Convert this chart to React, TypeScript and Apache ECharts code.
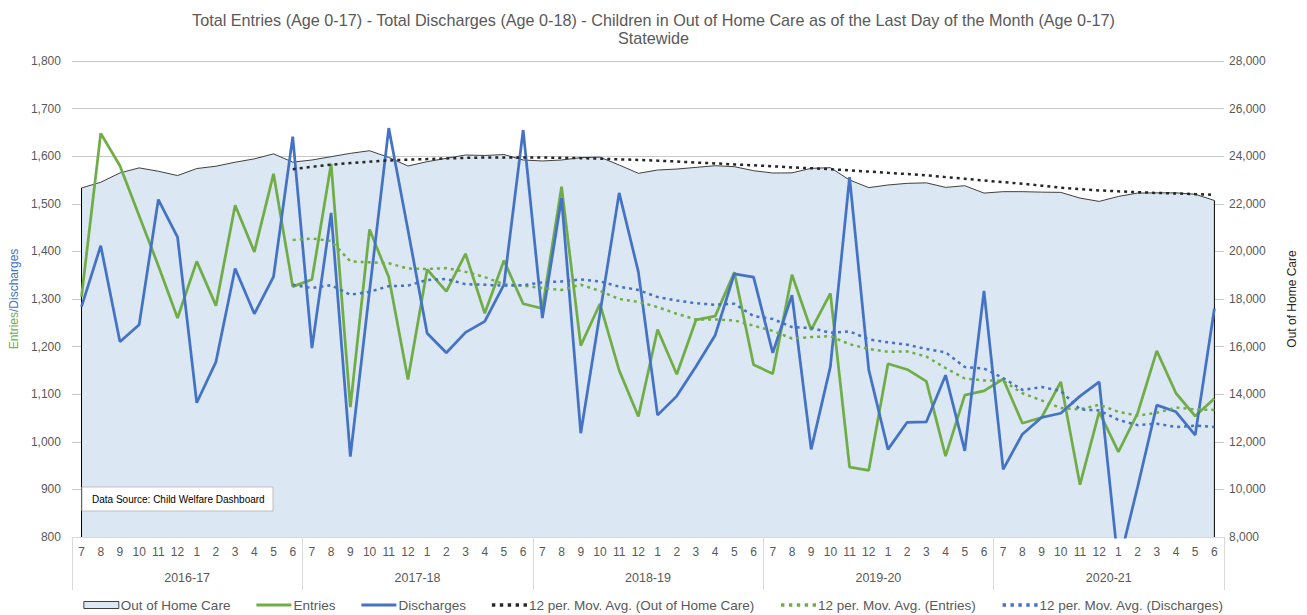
import React, { useEffect, useRef } from 'react';
import * as echarts from 'echarts';

const YEARS = ['2016-17', '2017-18', '2018-19', '2019-20', '2020-21'];
const MONTHS = ['7', '8', '9', '10', '11', '12', '1', '2', '3', '4', '5', '6'];

const ENTRIES = [
  1305, 1648, 1580, 1475, 1370, 1260, 1379, 1286, 1497, 1399, 1563, 1326,
  1341, 1584, 1073, 1446, 1346, 1131, 1362, 1316, 1395, 1270, 1381, 1290,
  1280, 1536, 1202, 1290, 1150, 1053, 1236, 1142, 1256, 1264, 1356, 1162,
  1143, 1351, 1235, 1312, 947, 940, 1164, 1152, 1127, 970, 1098, 1107,
  1132, 1039, 1051, 1126, 910, 1063, 979, 1060, 1191, 1102, 1054, 1091,
];

const DISCHARGES = [
  1284, 1412, 1210, 1246, 1509, 1430, 1082, 1168, 1364, 1269, 1347, 1641,
  1197, 1481, 969, 1317, 1659, 1445, 1228, 1187, 1230, 1253, 1330, 1655,
  1260, 1512, 1018, 1270, 1523, 1357, 1056, 1096, 1158, 1224, 1353, 1346,
  1187, 1308, 984, 1158, 1556, 1151, 984, 1041, 1042, 1140, 981, 1317,
  942, 1016, 1051, 1060, 1096, 1126, 740, 905, 1077, 1063, 1014, 1280,
];

const OUT_OF_HOME_CARE = [
  22667, 22905, 23298, 23509, 23368, 23186, 23481, 23579, 23747, 23888, 24098, 23750,
  23840, 23980, 24120, 24230, 23950, 23588, 23770, 23910, 24050, 24030, 24070, 23840,
  23800, 23840, 23940, 23960, 23630, 23280, 23420, 23460, 23530, 23600, 23560, 23391,
  23294, 23300, 23490, 23518, 23000, 22680, 22790, 22860, 22880, 22690, 22760, 22450,
  22510, 22510, 22490, 22480, 22240, 22100, 22310, 22450, 22460, 22460, 22400, 22140,
];

const MA_OUT_OF_HOME_CARE = [
  null, null, null, null, null, null, null, null, null, null, null, 23456,
  23554, 23644, 23712, 23772, 23821, 23854, 23878, 23906, 23931, 23943, 23941, 23948,
  23945, 23933, 23918, 23896, 23869, 23843, 23814, 23777, 23733, 23698, 23655, 23618,
  23575, 23530, 23493, 23456, 23404, 23354, 23301, 23251, 23197, 23121, 23054, 22976,
  22911, 22845, 22762, 22675, 22612, 22563, 22523, 22489, 22454, 22435, 22405, 22379,
];

const MA_ENTRIES = [
  null, null, null, null, null, null, null, null, null, null, null, 1424,
  1427, 1422, 1379, 1377, 1375, 1364, 1363, 1365, 1357, 1346, 1331, 1328,
  1323, 1319, 1330, 1317, 1300, 1294, 1283, 1269, 1257, 1257, 1255, 1244,
  1233, 1217, 1220, 1222, 1205, 1195, 1189, 1190, 1179, 1155, 1133, 1129,
  1128, 1102, 1087, 1071, 1068, 1078, 1063, 1055, 1061, 1072, 1068, 1067,
];

const MA_DISCHARGES = [
  null, null, null, null, null, null, null, null, null, null, null, 1330,
  1323, 1329, 1309, 1315, 1327, 1328, 1340, 1342, 1331, 1330, 1328, 1329,
  1335, 1337, 1341, 1337, 1326, 1319, 1304, 1297, 1291, 1288, 1290, 1264,
  1258, 1241, 1239, 1229, 1232, 1215, 1209, 1204, 1195, 1188, 1157, 1154,
  1134, 1109, 1115, 1107, 1068, 1066, 1046, 1035, 1038, 1031, 1034, 1031,
];

const LEFT_MIN = 800;
const LEFT_MAX = 1800;
const LEFT_STEP = 100;
const RIGHT_MIN = 8000;
const RIGHT_MAX = 28000;
const RIGHT_STEP = 2000;

const TITLE_1 =
  'Total Entries (Age 0-17) - Total Discharges (Age 0-18) - Children in Out of Home Care as of the Last Day of the Month (Age 0-17)';
const TITLE_2 = 'Statewide';

const FONT = '"Liberation Sans", Arial, sans-serif';
const GREEN = '#70AD47';
const BLUE = '#4472C4';
const DARK = '#404040';
const AREA = '#DCE7F4';
const TXT = '#595959';
const GRIDC = '#D9D9D9';

const ICON_LINE = 'path://M0,0H35V3H0Z';
const ICON_DOTS = 'path://M0,0h3v3h-3zM7,0h3v3h-3zM14,0h3v3h-3zM21,0h3v3h-3zM28,0h3v3h-3z';

export default function App() {
  const ref = useRef<HTMLDivElement>(null);

  useEffect(() => {
    document.body.style.margin = '0';
    if (!ref.current) return;
    const chart = echarts.init(ref.current, undefined, { renderer: 'svg' });

    const categories: string[] = [];
    YEARS.forEach((y) => MONTHS.forEach((m) => categories.push(y + '|' + m)));
    const last = OUT_OF_HOME_CARE.length - 1;
    const fmt = (v: number) => v.toLocaleString('en-US');

    const dotted = [3, 4];

    chart.setOption({
      animation: false,
      textStyle: { fontFamily: FONT },
      title: [
        {
          text: TITLE_1,
          left: 'center',
          top: 7,
          textStyle: { fontSize: 16.2, fontWeight: 'normal', color: TXT, fontFamily: FONT },
        },
        {
          text: TITLE_2,
          left: 'center',
          top: 25,
          textStyle: { fontSize: 16.2, fontWeight: 'normal', color: TXT, fontFamily: FONT },
        },
      ],
      legend: {
        left: 'center',
        top: 593,
        itemWidth: 35,
        itemHeight: 7,
        itemGap: 26,
        symbolKeepAspect: true,
        textStyle: { fontSize: 13.5, color: TXT, fontFamily: FONT, padding: [0, 0, 0, -3] },
        data: [
          {
            name: 'Out of Home Care',
            icon: 'rect',
            itemStyle: { color: AREA, borderColor: DARK, borderWidth: 1 },
          },
          { name: 'Entries', icon: ICON_LINE },
          { name: 'Discharges', icon: ICON_LINE },
          { name: '12 per. Mov. Avg. (Out of Home Care)', icon: ICON_DOTS },
          { name: '12 per. Mov. Avg. (Entries)', icon: ICON_DOTS },
          { name: '12 per. Mov. Avg. (Discharges)', icon: ICON_DOTS },
        ],
      },
      grid: { left: 71, right: 83, top: 61, bottom: 78, containLabel: false },
      xAxis: [
        {
          type: 'category',
          data: categories,
          position: 'bottom',
          boundaryGap: true,
          axisLine: { show: true, lineStyle: { color: GRIDC, width: 1 } },
          axisTick: { show: false },
          axisLabel: {
            interval: 0,
            margin: 9,
            fontSize: 12,
            color: TXT,
            fontFamily: FONT,
            formatter: (v: string) => v.split('|')[1],
          },
        },
        {
          type: 'category',
          data: YEARS,
          position: 'bottom',
          offset: 0,
          boundaryGap: true,
          axisLine: { show: false },
          axisTick: { show: true, length: 53, lineStyle: { color: GRIDC, width: 1 } },
          axisLabel: { interval: 0, margin: 34, fontSize: 12.5, color: TXT, fontFamily: FONT },
        },
      ],
      yAxis: [
        {
          type: 'value',
          min: LEFT_MIN,
          max: LEFT_MAX,
          interval: LEFT_STEP,
          position: 'left',
          axisLine: { show: false },
          axisTick: { show: false },
          splitLine: { show: true, lineStyle: { color: '#C8C8C8', width: 1 } },
          axisLabel: { margin: 11, fontSize: 12, color: TXT, fontFamily: FONT, formatter: fmt },
          name: '{g|Entries}{b|/Discharges}',
          nameLocation: 'middle',
          nameRotate: 90,
          nameGap: 50,
          nameTextStyle: {
            fontSize: 12,
            fontFamily: FONT,
            rich: {
              g: { color: GREEN, fontSize: 12, fontFamily: FONT },
              b: { color: BLUE, fontSize: 12, fontFamily: FONT },
            },
          },
        },
        {
          type: 'value',
          min: RIGHT_MIN,
          max: RIGHT_MAX,
          interval: RIGHT_STEP,
          position: 'right',
          axisLine: { show: false },
          axisTick: { show: false },
          splitLine: { show: false },
          axisLabel: { margin: 5, fontSize: 12, color: TXT, fontFamily: FONT, formatter: fmt },
          name: 'Out of Home Care',
          nameLocation: 'middle',
          nameRotate: 90,
          nameGap: 62,
          nameTextStyle: { fontSize: 12, color: '#262626', fontFamily: FONT },
        },
      ],
      graphic: [
        {
          type: 'rect',
          shape: { x: 82, y: 487, width: 191, height: 24 },
          style: { fill: '#FFFFFF', stroke: '#BFBFBF', lineWidth: 1 },
          z: 100,
        },
        {
          type: 'text',
          x: 92,
          y: 499,
          style: {
            text: 'Data Source: Child Welfare Dashboard',
            fontSize: 10,
            fontFamily: FONT,
            fill: '#000000',
            verticalAlign: 'middle',
          },
          z: 101,
        },
      ],
      series: [
        {
          name: 'Out of Home Care',
          type: 'line',
          xAxisIndex: 0,
          yAxisIndex: 1,
          data: OUT_OF_HOME_CARE,
          symbol: 'none',
          lineStyle: { color: DARK, width: 1 },
          itemStyle: { color: AREA, borderColor: DARK },
          areaStyle: { color: AREA, opacity: 1 },
          z: 1,
        },
        {
          name: 'edgeLeft',
          type: 'line',
          xAxisIndex: 0,
          yAxisIndex: 1,
          data: [
            [0, RIGHT_MIN],
            [0, OUT_OF_HOME_CARE[0]],
          ],
          symbol: 'none',
          lineStyle: { color: '#000000', width: 1 },
          z: 2,
        },
        {
          name: 'edgeRight',
          type: 'line',
          xAxisIndex: 0,
          yAxisIndex: 1,
          data: [
            [last, RIGHT_MIN],
            [last, OUT_OF_HOME_CARE[last]],
          ],
          symbol: 'none',
          lineStyle: { color: '#000000', width: 1 },
          z: 2,
        },
        {
          name: 'Entries',
          type: 'line',
          yAxisIndex: 0,
          data: ENTRIES,
          symbol: 'none',
          itemStyle: { color: GREEN },
          lineStyle: { color: GREEN, width: 2.75 },
          z: 3,
        },
        {
          name: 'Discharges',
          type: 'line',
          yAxisIndex: 0,
          data: DISCHARGES,
          symbol: 'none',
          itemStyle: { color: BLUE },
          lineStyle: { color: BLUE, width: 2.75 },
          z: 4,
        },
        {
          name: '12 per. Mov. Avg. (Out of Home Care)',
          type: 'line',
          yAxisIndex: 1,
          data: MA_OUT_OF_HOME_CARE,
          symbol: 'none',
          itemStyle: { color: '#262626' },
          lineStyle: { color: '#262626', width: 2.5, type: dotted },
          z: 5,
        },
        {
          name: '12 per. Mov. Avg. (Entries)',
          type: 'line',
          yAxisIndex: 0,
          data: MA_ENTRIES,
          symbol: 'none',
          itemStyle: { color: GREEN },
          lineStyle: { color: GREEN, width: 2.5, type: dotted },
          z: 5,
        },
        {
          name: '12 per. Mov. Avg. (Discharges)',
          type: 'line',
          yAxisIndex: 0,
          data: MA_DISCHARGES,
          symbol: 'none',
          itemStyle: { color: BLUE },
          lineStyle: { color: BLUE, width: 2.5, type: dotted },
          z: 5,
        },
      ],
    });

    return () => chart.dispose();
  }, []);

  return <div ref={ref} style={{ width: 1307, height: 615 }} />;
}
